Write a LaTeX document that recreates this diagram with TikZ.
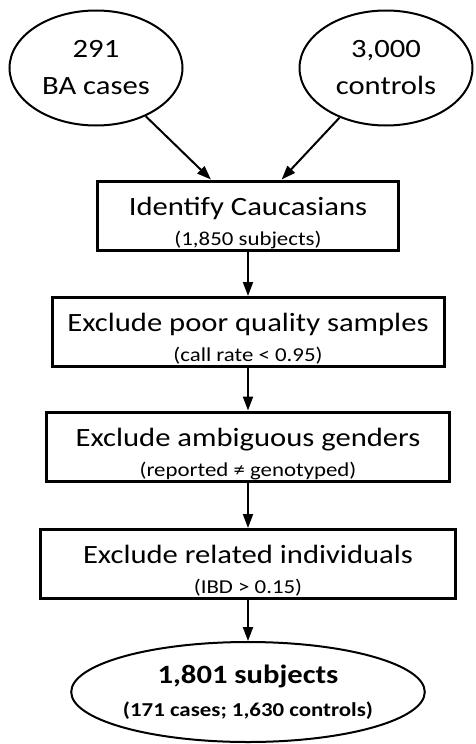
\documentclass[tikz,border=0pt]{standalone}
\usepackage{fontspec}
\setmainfont{Carlito}[FakeStretch=1.16]
\usetikzlibrary{shapes.geometric,arrows.meta}

\newcommand{\subline}{\fontsize{19.7}{30}\selectfont}

\tikzset{
  sample/.style={ellipse, draw, line width=2pt, inner sep=0pt, align=center,
    font=\fontsize{26.4}{37}\selectfont},
  filterbox/.style={rectangle, draw, line width=3pt, inner sep=0pt, align=center,
    text height=64pt, text depth=5pt, font=\fontsize{26.4}{30}\selectfont},
  flow/.style={line width=2pt, -{Triangle[length=14pt,width=10pt]}}
}

\begin{document}
\begin{tikzpicture}[x=1pt, y=-1pt]

\useasboundingbox (0,0) rectangle (475,744);

\node[sample, minimum width=173pt, minimum height=115pt] (cases) at (96,68) {291\\BA cases};
\node[sample, minimum width=173pt, minimum height=115pt] (controls) at (386,68) {3,000\\controls};

\node[filterbox, minimum width=301pt] (cauc) at (248,215.5)
  {Identify Caucasians\\{\subline (1,850 subjects)}};
\node[filterbox, minimum width=392pt] (quality) at (248,332)
  {Exclude poor quality samples\\{\subline (call rate < 0.95)}};
\node[filterbox, minimum width=403pt] (gender) at (248,446.5)
  {Exclude ambiguous genders\\{\subline (reported ≠ genotyped)}};
\node[filterbox, minimum width=415pt] (related) at (248,564)
  {Exclude related individuals\\{\subline (IBD > 0.15)}};

\node[sample, minimum width=300pt, minimum height=100pt, font=\fontsize{26.4}{33}\selectfont\bfseries]
  (final) at (248,692) {1,801 subjects\\{\subline\bfseries (171 cases; 1,630 controls)}};

\draw[flow] (cases) -- (cauc);
\draw[flow] (controls) -- (cauc);
\draw[flow] (cauc) -- (quality);
\draw[flow] (quality) -- (gender);
\draw[flow] (gender) -- (related);
\draw[flow] (related) -- (final);

\end{tikzpicture}
\end{document}
